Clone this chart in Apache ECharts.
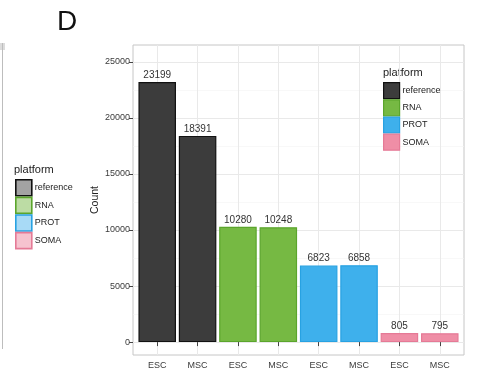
<!DOCTYPE html>
<html>
<head>
<meta charset="utf-8">
<script src="https://cdn.jsdelivr.net/npm/echarts@6/dist/echarts.min.js"></script>
<style>
html,body{margin:0;padding:0;background:#fff;}
#main{width:477px;height:373px;}
</style>
</head>
<body>
<div id="main"></div>
<script>
const categories = ['ESC', 'MSC', 'ESC', 'MSC', 'ESC', 'MSC', 'ESC', 'MSC'];
const platforms = ['reference', 'RNA', 'PROT', 'SOMA'];
const referenceCounts = [23199, 18391];
const rnaCounts = [10280, 10248];
const protCounts = [6823, 6858];
const somaCounts = [805, 795];
const yTicks = [0, 5000, 10000, 15000, 20000, 25000];
const yMinorTicks = [2500, 7500, 12500, 17500, 22500];

const fills = ['#3c3c3c', '#76b943', '#3eb0ec', '#ef8ea6'];
const borders = ['#111111', '#5ba52c', '#28a2e2', '#e57a96'];
const lightFills = ['#a3a3a3', '#bcdca4', '#a8daf6', '#f6c3cf'];

const countsByPlatform = [referenceCounts, rnaCounts, protCounts, somaCounts];
const xPositions = categories.map((c, i) => i + 1);

const series = platforms.map((p, k) => ({
  name: p,
  type: 'bar',
  barWidth: '93%',
  barGap: '-100%',
  data: countsByPlatform[k].map((v, j) => [2 * k + j + 1, v]),
  itemStyle: { color: fills[k], borderColor: borders[k], borderWidth: 1.2 },
  label: {
    show: true, position: 'top', distance: 2,
    formatter: (d) => String(d.value[1]),
    fontFamily: 'Liberation Sans', fontSize: 10, color: '#333'
  },
  emphasis: { disabled: true },
  animation: false
}));

// gridlines behind bars
series.push({
  name: 'grid', type: 'line', data: [], silent: true,
  markLine: {
    silent: true, symbol: 'none', z: 0, animation: false,
    label: { show: false },
    data: [
      ...yMinorTicks.map(v => ({ yAxis: v, lineStyle: { color: '#f4f4f4', width: 0.6, type: 'solid' } })),
      ...yTicks.map(v => ({ yAxis: v, lineStyle: { color: '#e9e9e9', width: 1, type: 'solid' } })),
      ...xPositions.map(v => ({ xAxis: v, lineStyle: { color: '#e9e9e9', width: 1, type: 'solid' } }))
    ]
  }
});

const chart = echarts.init(document.getElementById('main'), null, { renderer: 'canvas' });
chart.setOption({
  animation: false,
  backgroundColor: '#ffffff',
  textStyle: { fontFamily: 'Liberation Sans' },
  grid: {
    left: 133, right: 13, top: 45, bottom: 18,
    show: true, borderColor: '#c6c6c6', borderWidth: 1, backgroundColor: '#ffffff'
  },
  xAxis: {
    type: 'value', min: 0.4, max: 8.6,
    axisLine: { show: false },
    splitLine: { show: false },
    axisTick: { show: true, customValues: xPositions, length: 4, lineStyle: { color: '#444' } },
    axisLabel: {
      customValues: xPositions, margin: 6,
      formatter: (v) => categories[Math.round(v) - 1] || '',
      fontSize: 9, color: '#3a3a3a', fontFamily: 'Liberation Sans'
    }
  },
  yAxis: {
    type: 'value', min: -1150, max: 26500,
    name: 'Count', nameLocation: 'middle', nameGap: 32, nameRotate: 90,
    nameMoveOverlap: false,
    nameTextStyle: { fontSize: 10.5, color: '#222', fontFamily: 'Liberation Sans' },
    axisLine: { show: false },
    splitLine: { show: false },
    axisTick: { show: true, customValues: yTicks, length: 4, lineStyle: { color: '#444' } },
    axisLabel: {
      customValues: yTicks, margin: 3,
      formatter: (v) => String(v),
      fontSize: 9, color: '#3a3a3a', fontFamily: 'Liberation Sans'
    }
  },
  legend: [
    {
      orient: 'vertical', left: 383, top: 82, itemWidth: 16, itemHeight: 16, itemGap: 0,
      padding: 0, icon: 'rect', selectedMode: false,
      textStyle: { fontSize: 9, color: '#222', padding: [0, 0, 0, -2] },
      data: platforms.map((p, k) => ({ name: p, itemStyle: { color: fills[k], borderColor: borders[k], borderWidth: 1.2 } }))
    },
    {
      orient: 'vertical', left: 15, top: 179, itemWidth: 16, itemHeight: 16, itemGap: 0,
      padding: 0, icon: 'rect', selectedMode: false,
      textStyle: { fontSize: 9, color: '#222', padding: [0, 0, 0, -2] },
      data: platforms.map((p, k) => ({ name: p, itemStyle: { color: lightFills[k], borderColor: borders[k], borderWidth: 1.6 } }))
    }
  ],
  graphic: [
    { type: 'text', left: 57, top: 8, style: { text: 'D', fontSize: 28, fill: '#111', fontFamily: 'Liberation Sans' } },
    { type: 'text', left: 383, top: 67, style: { text: 'platform', fontSize: 11, fill: '#222', fontFamily: 'Liberation Sans' } },
    { type: 'text', left: 14, top: 164, style: { text: 'platform', fontSize: 11, fill: '#222', fontFamily: 'Liberation Sans' } },
    { type: 'rect', shape: { x: 0, y: 43, width: 5, height: 7 }, style: { fill: '#dcdcdc' } },
    { type: 'line', shape: { x1: 2.5, y1: 43, x2: 2.5, y2: 349 }, style: { stroke: '#bdbdbd', lineWidth: 1 } }
  ],
  series: series
});
</script>
</body>
</html>
